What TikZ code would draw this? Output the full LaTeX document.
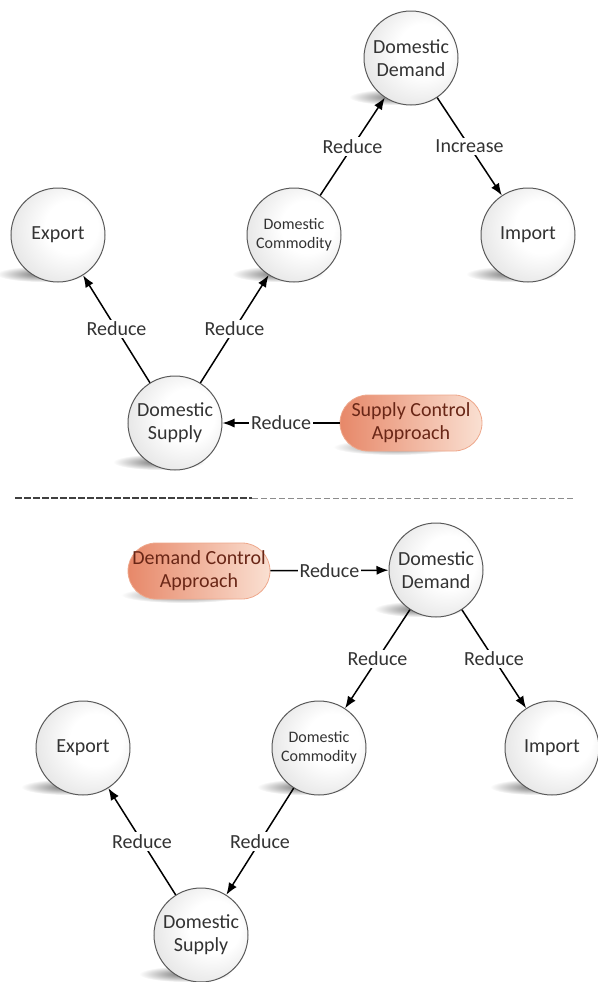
\documentclass[tikz,border=0pt]{standalone}
\usepackage{fontspec}
\setmainfont{Carlito}
\usetikzlibrary{arrows.meta,calc,backgrounds}

\pgfdeclareradialshading{ballshade}{\pgfpoint{10bp}{6bp}}{color(0bp)=(white); color(14bp)=(white); color(34bp)=(black!12); color(50bp)=(black!25)}
\definecolor{apprleft}{RGB}{231,136,105}
\definecolor{apprright}{RGB}{250,224,210}
\definecolor{apprline}{RGB}{238,168,140}
\definecolor{apprtext}{RGB}{105,38,22}

\begin{document}
\begin{tikzpicture}[x=0.5pt, y=-0.5pt,
      ball/.style={circle, draw=black!65, line width=0.5pt, shade, shading=ballshade,
        minimum size=47pt, inner sep=0pt, align=center, text=black!80,
        font=\fontsize{10}{11.5}\selectfont},
      small/.style={font=\fontsize{8}{9.5}\selectfont},
      appr/.style={rectangle, rounded corners=14pt, draw=apprline, line width=0.4pt,
        left color=apprleft, right color=apprright, minimum width=71pt, minimum height=28pt,
        inner sep=0pt, align=center, text=apprtext, font=\fontsize{10}{11.5}\selectfont},
      link/.style={line width=0.75pt, -{Latex[length=6pt,width=4.6pt]}},
      lbl/.style={fill=white, inner sep=1pt, text=black!80, font=\fontsize{10}{12}\selectfont},
      floor/.style={inner color=black!55, outer color=white}]

    \useasboundingbox (0,0) rectangle (598,982);

    \node[ball] (dem1) at (411,58)  {Domestic\\Demand};
    \node[ball, small] (com1) at (294,235) {Domestic\\Commodity};
    \node[ball] (exp1) at (58,235)  {Export};
    \node[ball] (imp1) at (528,235) {Import};
    \node[ball] (sup1) at (175,423) {Domestic\\Supply};
    \node[appr] (sca)  at (411,423) {Supply Control\\Approach};

    \draw[link] (com1) -- node[lbl] {Reduce} (dem1);
    \draw[link] (dem1) -- node[lbl] {Increase} (imp1);
    \draw[link] (sup1) -- node[lbl] {Reduce} (exp1);
    \draw[link] (sup1) -- node[lbl] {Reduce} (com1);
    \draw[link] (sca) -- node[lbl] {Reduce} (sup1);

    \draw[black!75, line width=0.7pt, dash pattern=on 3.5pt off 1pt] (15,498) -- (252,498);
    \draw[black!45, line width=0.5pt, dash pattern=on 3pt off 1.5pt] (252,498) -- (575,498);

    \node[appr] (dca)  at (199,571) {Demand Control\\Approach};
    \node[ball] (dem2) at (436,570) {Domestic\\Demand};
    \node[ball, small] (com2) at (319,748) {Domestic\\Commodity};
    \node[ball] (exp2) at (83,748)  {Export};
    \node[ball] (imp2) at (552,748) {Import};
    \node[ball] (sup2) at (201,935) {Domestic\\Supply};

    \draw[link] (dca) -- node[lbl] {Reduce} (dem2);
    \draw[link] (dem2) -- node[lbl] {Reduce} (com2);
    \draw[link] (dem2) -- node[lbl] {Reduce} (imp2);
    \draw[link] (com2) -- node[lbl] {Reduce} (sup2);
    \draw[link] (sup2) -- node[lbl] {Reduce} (exp2);

    \begin{scope}[on background layer]
      \foreach \n in {dem1,com1,exp1,imp1,sup1,dem2,com2,exp2,imp2,sup2}
        \shade[floor] ($(\n)+(-16,39)$) ellipse (46 and 8);
      \foreach \n in {sca,dca}
        \shade[floor] ($(\n)+(-16,24)$) ellipse (62 and 8);
    \end{scope}
  \end{tikzpicture}
\end{document}
